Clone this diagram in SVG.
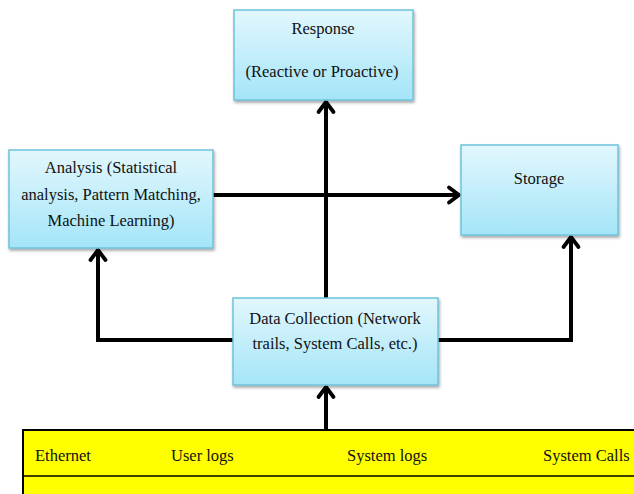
<svg xmlns="http://www.w3.org/2000/svg" width="634" height="494" viewBox="0 0 634 494">
<defs>
<linearGradient id="blue" x1="0" y1="0" x2="0" y2="1">
<stop offset="0" stop-color="#e2f7fd"/>
<stop offset="1" stop-color="#a4e5f8"/>
</linearGradient>
<filter id="sh" x="-10%" y="-10%" width="130%" height="130%">
<feDropShadow dx="1" dy="2" stdDeviation="1.5" flood-color="#000" flood-opacity="0.35"/>
</filter>
<marker id="arr" markerUnits="userSpaceOnUse" viewBox="-14 -10 16 20" refX="0" refY="0" markerWidth="16" markerHeight="20" orient="auto" overflow="visible">
<path d="M-10,-7.5 L0,0 L-10,7.5" fill="none" stroke="#000" stroke-width="3.8" stroke-linecap="round" stroke-linejoin="miter"/>
</marker>
</defs>
<style>
.box{fill:url(#blue);stroke:#6ec3da;stroke-width:1.5;filter:url(#sh)}
.t{font-family:"Liberation Serif","Times New Roman",serif;font-size:16.5px;fill:#111;text-anchor:middle}
.y{font-family:"Liberation Serif","Times New Roman",serif;font-size:16.5px;fill:#111}
.c{fill:none;stroke:#000;stroke-width:4}
</style>
<g id="sources">
<rect x="23" y="430" width="620" height="80" fill="#ffff00" stroke="#000" stroke-width="2"/>
<line x1="23" y1="476" x2="634" y2="476" stroke="#000" stroke-width="1.5"/>
<text class="y" x="35" y="461">Ethernet</text>
<text class="y" x="171" y="461">User logs</text>
<text class="y" x="347" y="461">System logs</text>
<text class="y" x="543" y="461">System Calls</text>
</g>
<g id="connectors">
<line class="c" x1="326" y1="430" x2="326" y2="387" marker-end="url(#arr)"/>
<line class="c" x1="326" y1="298" x2="326" y2="102" marker-end="url(#arr)"/>
<line class="c" x1="213" y1="195" x2="459" y2="195" marker-end="url(#arr)"/>
<polyline class="c" points="233,340 98,340 98,250" marker-end="url(#arr)"/>
<polyline class="c" points="438,340 571,340 571,237" marker-end="url(#arr)"/>
</g>
<g id="response">
<rect class="box" x="234" y="10" width="179" height="90"/>
<text class="t" x="323" y="34">Response</text>
<text class="t" x="322" y="77">(Reactive or Proactive)</text>
</g>
<g id="analysis">
<rect class="box" x="9" y="150" width="204" height="98"/>
<text class="t" x="111" y="173">Analysis (Statistical</text>
<text class="t" x="111" y="200">analysis, Pattern Matching,</text>
<text class="t" x="111" y="226">Machine Learning)</text>
</g>
<g id="storage">
<rect class="box" x="461" y="145" width="157" height="90"/>
<text class="t" x="539" y="184">Storage</text>
</g>
<g id="datacollection">
<rect class="box" x="233" y="298" width="205" height="87"/>
<text class="t" x="335" y="324">Data Collection (Network</text>
<text class="t" x="335" y="349">trails, System Calls, etc.)</text>
</g>
</svg>
